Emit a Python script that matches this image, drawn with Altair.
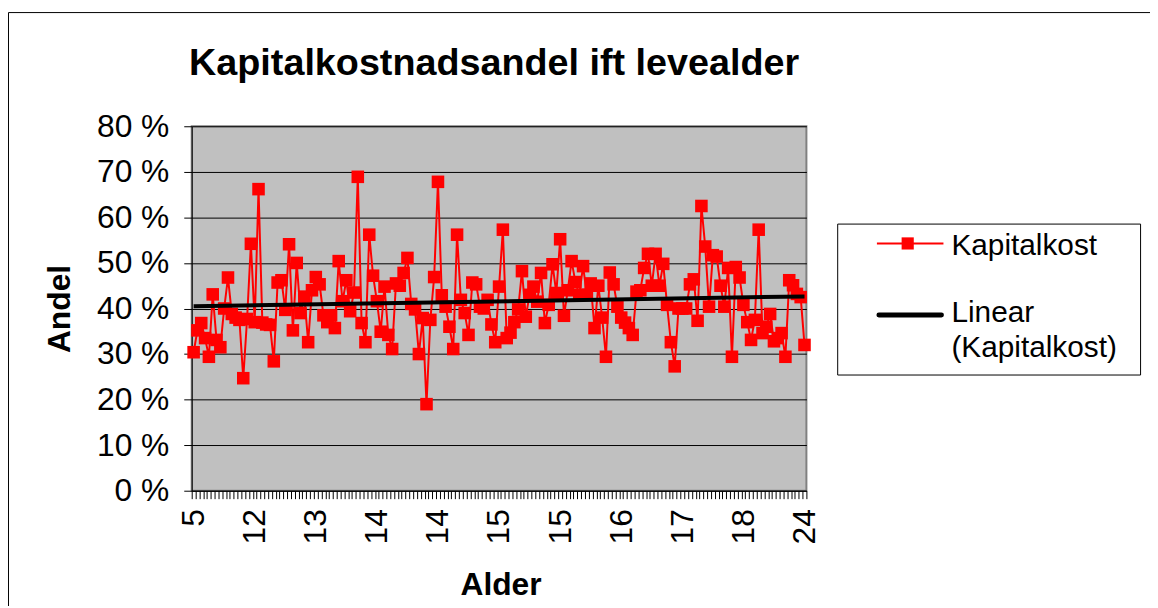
import altair as alt
import pandas as pd

# ---------------- data ----------------
chart_title = "Kapitalkostnadsandel ift levealder"
x_title = "Alder"
y_title = "Andel"
series_name = "Kapitalkost"
trend_label = ["Linear", "(Kapitalkost)"]

ages = [
    5,
    6, 7, 8, 9, 9, 10, 10, 10, 11, 11, 11, 11, 12, 12, 12,
    12,
    12, 12, 12, 12, 12, 12, 12, 12, 13, 13, 13, 13, 13, 13, 13,
    13,
    13, 13, 13, 13, 13, 13, 13, 13, 13, 13, 14, 14, 14, 14, 14,
    14,
    14, 14, 14, 14, 14, 14, 14, 14, 14, 14, 14, 14, 14, 14, 14,
    14,
    14, 14, 14, 14, 14, 14, 14, 15, 15, 15, 15, 15, 15, 15, 15,
    15,
    15, 15, 15, 15, 15, 15, 15, 15, 15, 15, 15, 15, 15, 15, 15,
    15,
    15, 15, 15, 15, 15, 15, 16, 16, 16, 16, 16, 16, 16, 16, 16,
    16,
    16, 16, 16, 16, 16, 16, 16, 17, 17, 17, 17, 17, 17, 17, 17,
    17,
    17, 17, 17, 17, 17, 17, 17, 18, 18, 18, 18, 18, 18, 18, 18,
    18,
    18, 18, 18, 18, 18, 19, 19, 19, 20, 20, 21, 21, 22, 22, 23,
    24,
]

andel = [
    30.4, 35.2, 36.8, 33.5, 29.4, 43.1, 33.1, 31.5, 40.0, 46.8,
    38.8, 38.0, 37.5, 24.7, 37.7, 54.2, 37.0, 66.2, 36.9, 36.5,
    36.4, 28.4, 45.7, 46.2, 39.7, 54.1, 35.2, 50.0, 39.0, 42.6,
    32.6, 44.0, 46.9, 45.3, 38.5, 37.0, 38.5, 35.7, 50.4, 41.6,
    46.2, 39.4, 43.5, 68.9, 36.8, 32.6, 56.2, 47.2, 41.6, 34.9,
    44.8, 34.2, 31.1, 45.5, 45.0, 47.8, 51.1, 41.0, 39.8, 30.0,
    37.9, 19.0, 37.5, 46.9, 67.8, 42.9, 40.4, 36.0, 31.1, 56.2,
    41.9, 39.0, 34.2, 45.7, 45.3, 40.4, 40.0, 41.9, 36.5, 32.6,
    44.8, 57.3, 33.5, 34.7, 37.0, 39.8, 48.2, 38.2, 43.0, 44.8,
    41.5, 47.8, 36.8, 40.8, 49.7, 43.4, 55.2, 38.4, 44.0, 50.4,
    45.8, 43.0, 49.3, 43.0, 45.5, 35.7, 45.0, 38.0, 29.4, 47.9,
    45.3, 40.4, 38.0, 36.9, 35.7, 34.2, 43.7, 44.0, 48.9, 52.0,
    45.0, 52.0, 45.0, 49.8, 40.8, 32.6, 27.3, 40.0, 40.0, 40.0,
    45.3, 46.4, 37.3, 62.5, 53.6, 40.4, 51.7, 51.4, 45.0, 40.4,
    48.9, 29.4, 49.1, 46.8, 40.8, 37.0, 33.1, 37.5, 57.3, 34.6,
    36.0, 38.8, 32.8, 33.5, 34.6, 29.4, 46.2, 45.1, 43.2, 42.5,
    32.0,
]

y_ticks = [0, 10, 20, 30, 40, 50, 60, 70, 80]
label_every = 16

# ---------------- layout / style ----------------
W, H = 619, 367
FONT = "Liberation Sans"
n = len(andel)

df = pd.DataFrame({
    "idx": [i + 0.5 for i in range(n)],
    "andel": andel,
    "alder": ages,
})

label_expr = " : ".join(
    f"datum.value == {i} ? '{ages[i]}'" for i in range(0, n, label_every)
) + " : ''"

x_enc = alt.X(
    "idx:Q",
    scale=alt.Scale(domain=[0, n], nice=False, zero=False),
    axis=alt.Axis(
        values=list(range(n + 1)),
        labelExpr=label_expr,
        labelAngle=270,
        labelOffset=W / n / 2,
        labelOverlap=False,
        labelFlush=False,
        labelBound=False,
        labelPadding=10,
        grid=False,
        title=x_title,
        titleX=311,
        titleY=105,
        titleAlign="center",
        titleBaseline="alphabetic",
        titleAngle=0,
    ),
)
y_enc = alt.Y(
    "andel:Q",
    scale=alt.Scale(domain=[0, 80], nice=False, zero=True),
    axis=alt.Axis(
        values=y_ticks,
        labelExpr="datum.value + ' %'",
        labelPadding=15,
        grid=True,
        title=y_title,
        titleX=-133,
        titleY=H / 2,
        titleAngle=270,
        titleAlign="center",
        titleBaseline="middle",
    ),
)

base = alt.Chart(df).encode(x=x_enc, y=y_enc)

line = base.mark_line(color="#FF0000", strokeWidth=2)
pts = base.mark_point(shape="square", filled=True, size=160, color="#FF0000", opacity=1)
trend = base.transform_regression(
    "idx", "andel", method="linear", extent=[0.5, n - 0.5]
).mark_line(color="black", strokeWidth=4)

one = alt.Data(values=[{"a": 1}])

frame = alt.Chart(one).mark_rect(fill="transparent", stroke="black", strokeWidth=1).encode(
    x=alt.value(-184.5), x2=alt.value(980), y=alt.value(-114.5), y2=alt.value(600)
)

title_mark = alt.Chart(one).mark_text(
    text=chart_title, font=FONT, fontSize=38, fontWeight="bold", color="black",
    align="center", baseline="alphabetic",
).encode(x=alt.value(304.5), y=alt.value(-52))

leg_box = alt.Chart(one).mark_rect(fill="white", stroke="black", strokeWidth=1).encode(
    x=alt.value(650.5), x2=alt.value(955.5), y=alt.value(98.5), y2=alt.value(250.5)
)
leg_red_line = alt.Chart(one).mark_rule(color="#FF0000", strokeWidth=2).encode(
    x=alt.value(690), x2=alt.value(757), y=alt.value(118)
)
leg_red_sq = alt.Chart(one).mark_point(
    shape="square", filled=True, size=150, color="#FF0000", opacity=1
).encode(x=alt.value(721), y=alt.value(118))
leg_red_txt = alt.Chart(one).mark_text(
    text=series_name, font=FONT, fontSize=30, color="black", align="left", baseline="alphabetic"
).encode(x=alt.value(765), y=alt.value(130))
leg_blk_line = alt.Chart(one).mark_rule(color="black", strokeWidth=5, strokeCap="round").encode(
    x=alt.value(692), x2=alt.value(755), y=alt.value(190)
)
leg_blk_txt = alt.Chart(one).mark_text(
    text=trend_label, font=FONT, fontSize=30, color="black", align="left",
    baseline="alphabetic", lineHeight=35,
).encode(x=alt.value(765), y=alt.value(197))

chart = alt.layer(
    frame, line, pts, trend, title_mark,
    leg_box, leg_red_line, leg_red_sq, leg_red_txt, leg_blk_line, leg_blk_txt,
).properties(
    width=W,
    height=H,
    autosize=alt.AutoSizeParams(type="none"),
    padding={"left": 185, "top": 117, "right": 346, "bottom": 114},
    background="white",
).configure_view(
    fill="#C0C0C0", stroke="#808080", strokeWidth=2
).configure_axis(
    domainColor="black", domainWidth=1, tickColor="black", tickSize=8, tickWidth=1,
    labelFont=FONT, labelFontSize=32, labelColor="black",
    titleFont=FONT, titleFontSize=32, titleFontWeight="bold", titleColor="black",
    gridColor="black", gridWidth=1, gridOpacity=1,
)

chart.save("out.html", embed_options={"renderer": "svg", "actions": False})
